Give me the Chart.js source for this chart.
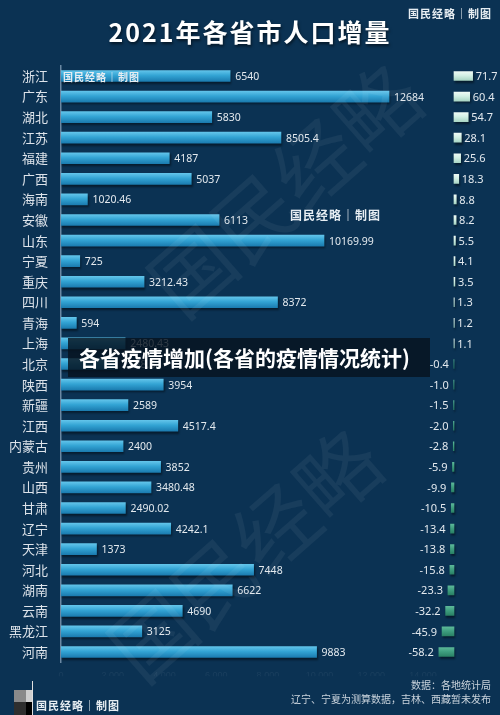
<!DOCTYPE html>
<html>
<head>
<meta charset="utf-8">
<script src="https://cdn.jsdelivr.net/npm/chart.js@4.4.1/dist/chart.umd.min.js"></script>
<style>
html, body { margin: 0; padding: 0; background: #0b3253; }
#wrap { position: relative; width: 500px; height: 715px; overflow: hidden; background: #0b3253; font-family: "Noto Sans CJK SC", sans-serif; }
#chart { position: absolute; left: 0; top: 0; }
.title { position: absolute; top: 13px; left: 0; width: 500px; text-align: center; color: #fff; font-size: 25px; font-weight: bold; letter-spacing: 2px; text-shadow: 1px 2px 3px rgba(0,0,0,0.55); }
.stamp { position: absolute; color: #e6edf2; white-space: nowrap; letter-spacing: 1px; font-weight: bold; }
.banner { position: absolute; left: 68px; top: 338px; width: 362px; height: 39px; background: rgba(6,18,30,0.82); color: #fff; font-size: 21px; font-weight: bold; line-height: 39px; padding-left: 11px; box-sizing: border-box; white-space: nowrap; }
.foot { position: absolute; right: 9px; color: #c9d3dc; font-size: 10px; white-space: nowrap; }
.sq { position: absolute; }
</style>
</head>
<body>
<div id="wrap">
  <canvas id="chart" width="500" height="715"></canvas>
  <div class="title">2021年各省市人口增量</div>
  <div class="stamp" style="right:8px;top:5px;font-size:11px;">国民经略｜制图</div>
  <div class="stamp" style="left:63px;top:69px;font-size:10px;">国民经略｜制图</div>
  <div class="stamp" style="left:290px;top:206px;font-size:12px;">国民经略｜制图</div>
  <div class="banner">各省疫情增加(各省的疫情情况统计)</div>
  <div class="foot" style="top:677px;">数据：各地统计局</div>
  <div class="foot" style="top:691px;">辽宁、宁夏为测算数据，吉林、西藏暂未发布</div>
  <div class="sq" style="left:14px;top:690px;width:12px;height:12px;background:#8a8a8a;"></div>
  <div class="sq" style="left:26px;top:690px;width:6px;height:12px;background:#cfcfcf;"></div>
  <div class="sq" style="left:14px;top:702px;width:12px;height:13px;background:#2e2e2e;"></div>
  <div class="sq" style="left:26px;top:702px;width:6px;height:13px;background:#000;"></div>
  <div class="sq" style="left:32px;top:681px;width:1px;height:34px;background:#e0e0e0;"></div>
  <div class="stamp" style="left:36px;top:697px;font-size:11px;">国民经略｜制图</div>
</div>
<script>
const provinces = ['浙江', '广东', '湖北', '江苏', '福建', '广西', '海南', '安徽', '山东', '宁夏',
    '重庆', '四川', '青海', '上海', '北京', '陕西', '新疆', '江西', '内蒙古', '贵州',
    '山西', '甘肃', '辽宁', '天津', '河北', '湖南', '云南', '黑龙江', '河南'];
const barValues = [6540, 12684, 5830, 8505.4, 4187, 5037, 1020.46, 6113, 10169.99, 725,
    3212.43, 8372, 594, 2480.43, 2188.6, 3954, 2589, 4517.4, 2400, 3852,
    3480.48, 2490.02, 4242.1, 1373, 7448, 6622, 4690, 3125, 9883];
const popChange = [71.7, 60.4, 54.7, 28.1, 25.6, 18.3, 8.8, 8.2, 5.5, 4.1,
    3.5, 1.3, 1.2, 1.1, -0.4, -1.0, -1.5, -2.0, -2.8, -5.9,
    -9.9, -10.5, -13.4, -13.8, -15.8, -23.3, -32.2, -45.9, -58.2];
const tickValues = [0, 2000, 4000, 6000, 8000, 10000, 12000, 14000];

const canvas = document.getElementById('chart');

function barGradient(c, h, stops) {
    const chart = c.chart;
    if (!chart.chartArea || !chart.scales.y) return stops[1];
    const yc = chart.scales.y.getPixelForValue(c.dataIndex);
    const g = chart.ctx.createLinearGradient(0, yc - h / 2, 0, yc + h / 2);
    g.addColorStop(0, stops[0]);
    g.addColorStop(0.45, stops[1]);
    g.addColorStop(1, stops[2]);
    return g;
}

// drop shadow under the bars
const shadowPlugin = {
    id: 'barShadow',
    beforeDatasetDraw(chart) {
        const ctx = chart.ctx;
        ctx.save();
        ctx.shadowColor = 'rgba(0,0,0,0.45)';
        ctx.shadowOffsetX = 1;
        ctx.shadowOffsetY = 2;
        ctx.shadowBlur = 2;
    },
    afterDatasetDraw(chart) {
        chart.ctx.restore();
    }
};

// big faint diagonal watermark
const watermarkPlugin = {
    id: 'watermark',
    afterDatasetsDraw(chart) {
        const ctx = chart.ctx;
        ctx.save();
        ctx.fillStyle = 'rgba(255,255,255,0.055)';
        ctx.font = '82px "Noto Sans CJK SC"';
        ctx.textAlign = 'center';
        ctx.textBaseline = 'middle';
        [[285, 190], [245, 555]].forEach(p => {
            ctx.save();
            ctx.translate(p[0], p[1]);
            ctx.rotate(-0.72);
            ctx.fillText('国民经略', 0, 0);
            ctx.restore();
        });
        ctx.restore();
    }
};

// value labels at the end of each bar
const labelPlugin = {
    id: 'valueLabels',
    afterDatasetsDraw(chart) {
        const ctx = chart.ctx;
        ctx.save();
        ctx.fillStyle = '#e3e9ee';
        ctx.textBaseline = 'middle';
        chart.getDatasetMeta(0).data.forEach((el, i) => {
            ctx.font = '10.5px "Noto Sans"';
            ctx.textAlign = 'left';
            ctx.fillText(String(barValues[i]), el.x + 5, el.y + 1);
        });
        chart.getDatasetMeta(1).data.forEach((el, i) => {
            const v = popChange[i];
            ctx.font = '11px "Noto Sans"';
            if (v >= 0) {
                ctx.textAlign = 'left';
                ctx.fillText(v.toFixed(1), el.x + 3, el.y + 1);
            } else {
                ctx.textAlign = 'right';
                ctx.fillText(v.toFixed(1), el.x - 5, el.y + 1);
            }
        });
        ctx.restore();
    }
};

new Chart(canvas, {
    type: 'bar',
    data: {
        labels: provinces,
        datasets: [{
            data: barValues,
            xAxisID: 'x',
            grouped: false,
            barThickness: 11,
            borderWidth: 0,
            backgroundColor: c => barGradient(c, 11, ['#62c4ea', '#33a4d4', '#1b7cb0'])
        }, {
            data: popChange,
            xAxisID: 'x2',
            grouped: false,
            barThickness: 9,
            borderWidth: 0,
            backgroundColor: c => popChange[c.dataIndex] >= 0
                ? barGradient(c, 9, ['#eefaf5', '#d3f0e5', '#a9d6c5'])
                : barGradient(c, 9, ['#5cb898', '#3f9f80', '#2a8265'])
        }]
    },
    options: {
        indexAxis: 'y',
        responsive: false,
        animation: false,
        layout: { padding: { top: 65.7, right: 10, bottom: 38.7, left: 0 } },
        plugins: { legend: { display: false }, tooltip: { enabled: false } },
        scales: {
            y: {
                grid: { display: false, drawTicks: false },
                border: { display: true, color: '#6a88a3', width: 1.5 },
                ticks: { color: '#dde3ea', padding: 13, font: { family: 'Noto Sans CJK SC', size: 13 } },
                afterFit: s => { s.width = 61; }
            },
            x: {
                position: 'bottom',
                min: 0,
                max: 16589,
                grid: { display: false, drawTicks: false },
                border: { display: false },
                afterBuildTicks: s => { s.ticks = tickValues.map(v => ({ value: v })); },
                ticks: { color: 'rgba(255,255,255,0.06)', padding: 8, font: { size: 9 } },
                afterFit: s => { s.height = 14; }
            },
            x2: {
                display: false,
                min: -1511.5,
                max: 138.5
            }
        }
    },
    plugins: [shadowPlugin, watermarkPlugin, labelPlugin]
});
</script>
</body>
</html>
